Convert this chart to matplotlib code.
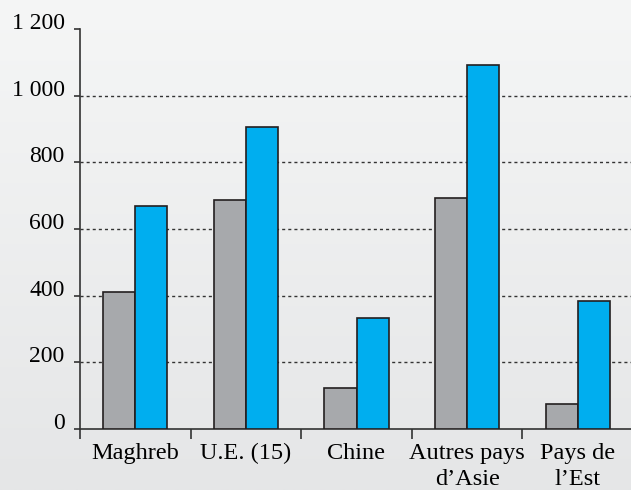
import numpy as np
import matplotlib.pyplot as plt

# Values
categories = ['Maghreb', 'U.E. (15)', 'Chine', 'Autres pays\nd’Asie', 'Pays de\nl’Est']
grey_values = [410, 687, 123, 693, 75]
blue_values = [669, 906, 333, 1092, 384]
ytick_values = [0, 200, 400, 600, 800, 1000, 1200]
ytick_labels = ['0', '200', '400', '600', '800', '1 000', '1 200']

plt.rcParams['font.family'] = ['Liberation Serif', 'DejaVu Serif']

fig = plt.figure(figsize=(6.31, 4.90), dpi=100)

# Soft vertical gradient behind everything
bg = fig.add_axes([0, 0, 1, 1], zorder=-10)
grad = np.linspace(0, 1, 256).reshape(-1, 1)
bg.imshow(grad, aspect='auto', cmap=plt.matplotlib.colors.LinearSegmentedColormap.from_list(
    'bg', ['#f5f6f6', '#e5e6e7']), extent=[0, 1, 0, 1], origin='upper')
bg.axis('off')

ax = fig.add_axes([80 / 631, 1 - 429 / 490, 551 / 631, 400 / 490])
ax.set_facecolor('none')

x = np.arange(len(categories)) + 0.5
w = 0.29
ax.bar(x - w / 2, grey_values, w, color='#a7a9ac', edgecolor='#231f20', linewidth=1.2, zorder=3)
ax.bar(x + w / 2, blue_values, w, color='#00aeef', edgecolor='#231f20', linewidth=1.2, zorder=3)

# Dashed gridlines (not at the top value)
for v in ytick_values[1:-1]:
    ax.axhline(v, color='#333333', lw=1.0, linestyle=(0, (2.2, 2.2)), zorder=1)

ax.set_xlim(0, 551 / 110.6)
ax.set_ylim(0, 1200)

ax.set_yticks(ytick_values)
ax.set_yticklabels(ytick_labels, fontsize=17)
for lbl in ax.get_yticklabels():
    lbl.set_verticalalignment('baseline')
ax.tick_params(axis='y', direction='out', length=4, width=1.2, color='#333333', pad=7)

# category boundaries as major ticks, names as minor ticks
ax.set_xticks(np.arange(len(categories)))
ax.set_xticklabels([])
ax.tick_params(axis='x', which='major', direction='out', length=7.5, width=1.2, color='#333333')
ax.set_xticks(x, minor=True)
ax.set_xticklabels(categories, minor=True, fontsize=17.5, linespacing=1.3)
ax.tick_params(axis='x', which='minor', length=0, pad=10)

for side in ['top', 'right']:
    ax.spines[side].set_visible(False)
for side in ['left', 'bottom']:
    ax.spines[side].set_color('#333333')
    ax.spines[side].set_linewidth(1.2)

plt.savefig('out.png', dpi=100)
